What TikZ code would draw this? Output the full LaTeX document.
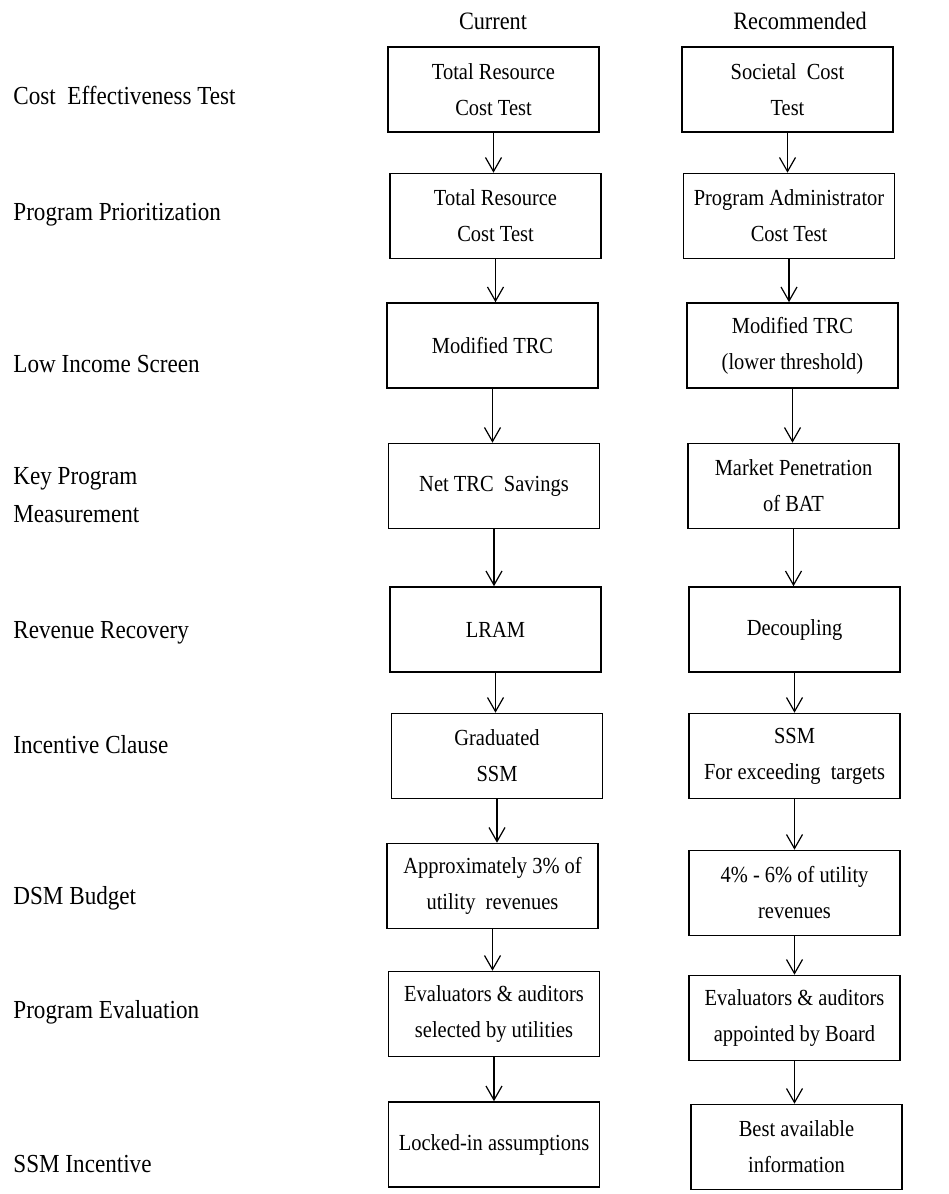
\documentclass[tikz,border=0pt]{standalone}
\usepackage{fontspec}
\setmainfont[FakeStretch=0.89]{Liberation Serif}
\usetikzlibrary{arrows.meta,positioning}

\begin{document}
\begin{tikzpicture}[x=0.5pt, y=-0.5pt,
                    >={Straight Barb[length=7pt,width=8pt]},
                    box/.style={draw, line width=0.8pt, minimum width=105.5pt,
                                minimum height=42.5pt, inner sep=2pt, align=center,
                                font=\fontsize{11.5}{18}\selectfont},
                    rowlabel/.style={anchor=base west, inner sep=0pt, align=left,
                                     font=\fontsize{13}{19}\selectfont},
                    colhead/.style={anchor=base, inner sep=0pt,
                                    font=\fontsize{12.5}{15}\selectfont}]
\useasboundingbox (0,0) rectangle (948,1194);

% column heads
\node[colhead] (cur) at (493,29) {Current};
\node[colhead] (rec) at (800,29) {Recommended};

% row labels
\node[rowlabel] (costeff) at (13,104)  {Cost~~Effectiveness Test};
\node[rowlabel] (prio)    at (13,220)  {Program Prioritization};
\node[rowlabel] (lowinc)  at (13,372)  {Low Income Screen};
\node[rowlabel, anchor=west] (keyprog) at (13,495.5) {Key Program\\Measurement};
\node[rowlabel] (revrec)  at (13,638)  {Revenue Recovery};
\node[rowlabel] (incent)  at (13,753)  {Incentive Clause};
\node[rowlabel] (budget)  at (13,904)  {DSM Budget};
\node[rowlabel] (progeval) at (13,1018) {Program Evaluation};
\node[rowlabel] (ssminc)  at (13,1172) {SSM Incentive};

% current
\node[box] (L1) at (493.5,89.5)  {Total Resource\\Cost Test};
\node[box] (L2) at (495.5,216)   {Total Resource\\Cost Test};
\node[box] (L3) at (492.5,345.5) {Modified TRC};
\node[box] (L4) at (494,486)     {Net TRC~~Savings};
\node[box] (L5) at (495.5,629.5) {LRAM};
\node[box] (L6) at (497,756)     {Graduated\\SSM};
\node[box] (L7) at (492.5,886)   {Approximately 3\% of\\utility~~revenues};
\node[box] (L8) at (494,1014)    {Evaluators \& auditors\\selected by utilities};
\node[box] (L9) at (494,1144.5)  {Locked-in assumptions};

% recommended
\node[box] (R1) at (787.5,89.5)  {Societal~~Cost\\Test};
\node[box] (R2) at (789,216)     {Program Administrator\\Cost Test};
\node[box] (R3) at (792.5,345.5) {Modified TRC\\(lower threshold)};
\node[box] (R4) at (793.5,486)   {Market Penetration\\of BAT};
\node[box] (R5) at (794.5,629.5) {Decoupling};
\node[box] (R6) at (794.5,756)   {SSM\\For exceeding~~targets};
\node[box] (R7) at (794.5,893)   {4\% - 6\% of utility\\revenues};
\node[box] (R8) at (794.5,1018)  {Evaluators \& auditors\\appointed by Board};
\node[box] (R9) at (796.5,1147)  {Best available\\information};

\foreach \a/\b in {1/2,2/3,3/4,4/5,5/6,6/7,7/8,8/9} {
  \draw[->, line width=0.6pt] (L\a.south) -- (L\a.south |- L\b.north);
  \draw[->, line width=0.6pt] (R\a.south) -- (R\a.south |- R\b.north);
}
\end{tikzpicture}
\end{document}
